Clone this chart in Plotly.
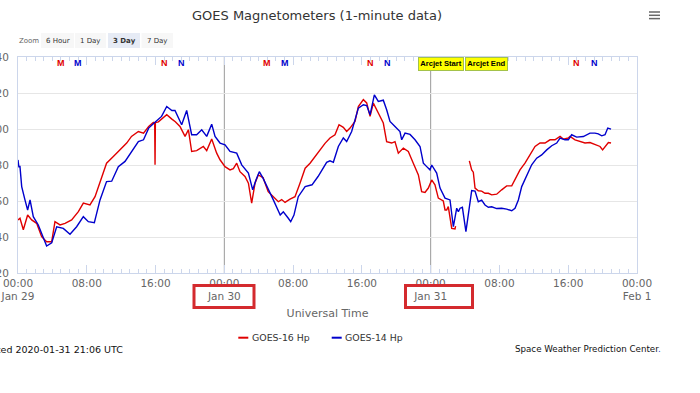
import pandas as pd
import plotly.graph_objects as go

# ---------------- data ----------------
start = pd.Timestamp("2020-01-29 00:00")

series_names = ["GOES-16 Hp", "GOES-14 Hp"]
series_colors = ["#e00000", "#0000cc"]

g16_hours = [0.0, 0.23, 0.62, 1.12, 1.59, 2.17, 2.75, 3.33, 3.92, 4.3, 4.89, 5.47, 6.24, 7.02, 7.6,
             8.37, 8.96, 9.65, 10.3, 11.09, 11.86, 12.64, 13.2, 14.0, 14.6, 15.2, 15.74, 15.9, 15.94,
             15.98, 16.33, 17.3, 17.9, 18.3, 18.84, 19.43, 19.82, 20.2, 20.78, 21.56, 21.95, 22.53,
             23.11, 23.5, 24.08, 24.66, 25.05, 25.44, 25.82, 26.4, 26.8, 27.18, 27.57, 27.95, 28.5,
             29.1, 29.7, 30.28, 30.67, 31.06, 31.64, 32.22, 32.8, 33.4, 33.97, 34.55, 35.13, 35.71,
             36.29, 36.87, 37.34, 37.84, 38.23, 38.62, 39.2, 39.59, 40.17, 40.56, 40.95, 41.33, 41.91,
             42.49, 42.88, 43.46, 43.85, 44.24, 44.82, 45.4, 45.98, 46.57, 46.95, 47.34, 47.73, 48.12,
             48.5, 48.89, 49.47, 49.67, 49.86, 50.05, 50.45, 50.83, 50.9,
             51.7,
             52.5, 52.77, 52.96, 53.16, 53.54, 53.93, 54.32, 54.71, 55.1, 55.68, 56.26, 56.84, 57.43,
             57.81, 58.39, 58.97, 59.56, 60.14, 60.72, 61.3, 61.88, 62.46, 63.05, 63.43, 64.01, 64.21,
             64.79, 65.37, 65.95, 66.53, 67.11, 67.7, 68.0, 68.4, 68.67, 68.98]
g16_hp = [49.5, 50.4, 44.0, 52.2, 49.5, 47.6, 40.2, 37.4, 37.4, 48.5, 46.7, 47.6, 49.5, 54.1, 58.8,
          57.8, 62.4, 71.7, 81.0, 84.7, 88.4, 92.2, 95.9, 98.6, 97.7, 101.4, 103.6, 103.0, 80.1,
          103.5, 104.0, 108.0, 105.5, 104.0, 101.4, 95.9, 99.6, 87.5, 88.0, 90.3, 88.0, 94.4,
          86.6, 82.9, 79.1, 77.3, 78.0, 81.0, 76.3, 73.6, 69.9, 58.8, 69.9, 74.5, 73.0,
          65.2, 62.4, 59.6, 60.8, 59.2, 61.0, 62.4, 69.9, 78.2, 81.0, 84.7, 88.4, 92.0,
          95.0, 96.8, 102.4, 100.9, 98.6, 100.5, 104.2, 112.5, 116.3, 114.5, 107.0, 114.4, 108.9,
          103.3, 93.0, 92.2, 93.0, 86.6, 89.4, 87.5, 81.0, 74.5, 65.2, 64.8, 67.2, 71.7,
          69.0, 61.6, 60.0, 55.0, 55.0, 56.9, 44.8, 44.5, 46.0,
          None,
          82.3, 77.3, 76.0, 67.2, 65.7, 65.5, 64.3, 64.3, 63.4, 63.8, 66.2, 68.4, 68.4,
          71.7, 77.3, 81.0, 85.6, 90.3, 92.2, 92.2, 94.0, 94.0, 95.9, 94.4, 95.0, 95.9,
          94.0, 93.0, 92.2, 92.5, 91.2, 90.3, 88.4, 90.5, 92.5, 92.2]

g14_hours = [0.0, 0.1, 0.23, 0.43, 0.81, 1.12, 1.4, 1.78, 2.36, 2.75, 3.33, 3.92, 4.5, 5.27, 6.05,
             6.82, 7.6, 8.18, 8.88, 9.54, 10.3, 10.9, 11.67, 12.45, 13.2, 14.0, 14.6, 15.2, 15.9,
             16.7, 17.3, 17.9, 18.26, 19.04, 19.62, 20.2, 20.78, 21.37, 21.95, 22.53, 22.92, 23.5,
             24.08, 24.66, 25.44, 26.02, 26.8, 27.3, 27.68, 28.07, 28.5, 29.1, 29.7, 30.5, 30.86,
             31.44, 31.72, 32.1, 32.6, 33.4, 34.2, 34.9, 35.5, 35.9, 36.29, 36.68, 37.26, 37.84,
             38.23, 38.81, 39.2, 39.59, 40.17, 40.56, 40.95, 41.45, 41.91, 42.49, 42.88, 43.27,
             43.85, 44.43, 44.63, 45.02, 45.6, 46.18, 46.76, 47.15, 47.54, 47.92, 48.12, 48.7,
             49.09, 49.67, 50.25, 50.64, 51.03, 51.22, 51.42, 51.69, 52.1, 52.5, 52.77, 53.16,
             53.54, 53.93, 54.32, 54.71, 55.1, 55.68, 56.26, 56.84, 57.43, 57.81, 58.2, 58.59,
             59.17, 59.75, 60.33, 60.91, 61.5, 62.08, 62.66, 63.05, 63.63, 64.01, 64.4, 64.98,
             65.76, 66.53, 67.11, 67.5, 67.9, 68.28, 68.6, 68.98]
g14_hp = [82.8, 79.0, 79.1, 68.0, 60.6, 55.0, 60.6, 51.3, 46.7, 42.0, 35.0, 36.8, 45.7, 44.8, 41.5,
          45.7, 51.3, 48.5, 48.0, 60.6, 70.8, 71.0, 79.1, 82.0, 87.5, 93.0, 94.0, 100.5, 103.6,
          107.0, 112.5, 110.3, 110.3, 102.4, 110.3, 96.8, 96.8, 99.6, 95.9, 102.7, 95.9, 92.2,
          91.2, 87.5, 86.6, 80.1, 75.5, 66.2, 71.7, 76.3, 72.7, 66.2, 60.6, 52.2, 54.0,
          50.4, 48.5, 52.2, 62.4, 68.0, 69.0, 73.6, 78.2, 81.5, 82.3, 81.5, 90.3, 95.0,
          93.0, 98.6, 105.1, 111.6, 113.5, 113.0, 107.9, 119.0, 115.3, 116.0, 110.7, 104.2,
          101.4, 98.6, 94.0, 97.7, 97.0, 94.0, 90.3, 81.0, 79.1, 77.3, 80.0, 75.5,
          67.2, 61.6, 60.6, 45.7, 56.0, 54.0, 56.0, 56.5, 43.0, 57.0, 65.8, 65.5,
          59.6, 60.5, 57.8, 56.5, 56.8, 55.8, 56.0, 55.5, 54.6, 56.0, 60.6, 68.0,
          73.6, 80.1, 83.8, 85.6, 88.4, 90.7, 92.2, 95.0, 94.0, 94.0, 96.8, 95.5,
          95.8, 97.7, 97.7, 97.3, 96.2, 96.8, 100.5, 99.9]

tick_hours = [0, 8, 16, 24, 32, 40, 48, 56, 64, 72]
tick_text = ["00:00<br>Jan 29", "08:00", "16:00", "00:00<br>Jan 30", "08:00", "16:00",
             "00:00<br>Jan 31", "08:00", "16:00", "00:00<br>Feb 1"]
y_ticks = [20, 40, 60, 80, 100, 120, 140]
day_line_hours = [24, 48]

# visible local midnight (M) / noon (N) markers: hour, letter, satellite index (0=G16, 1=G14)
mn_hours = [5, 7, 17, 19, 29, 31, 41, 43, 65, 67]
mn_letters = ["M", "M", "N", "N", "M", "M", "N", "N", "N", "N"]
mn_sat = [0, 1, 0, 1, 0, 1, 0, 1, 0, 1]

event_labels = ["Arcjet Start", "Arcjet End"]
zoom_buttons = ["6 Hour", "1 Day", "3 Day", "7 Day"]
selected_button = "3 Day"


def to_dt(hours):
    return [start + pd.Timedelta(hours=h) for h in hours]


# ---------------- layout helpers (pixel -> paper) ----------------
W, H = 700, 393
L, R, T, B = 18, 637, 57, 273


def px(x):
    return (x - L) / (R - L)


def py(y):
    return (B - y) / (B - T)


FONT = "DejaVu Sans"
fig = go.Figure()

fig.add_trace(go.Scatter(x=to_dt(g16_hours), y=g16_hp, mode="lines", name=series_names[0],
                         line=dict(color=series_colors[0], width=1.4), connectgaps=False))
fig.add_trace(go.Scatter(x=to_dt(g14_hours), y=g14_hp, mode="lines", name=series_names[1],
                         line=dict(color=series_colors[1], width=1.4)))

shapes = []
for h in day_line_hours:
    shapes.append(dict(type="line", xref="x", yref="paper", x0=to_dt([h])[0], x1=to_dt([h])[0],
                       y0=0, y1=1, line=dict(color="#9a9a9a", width=1), layer="below"))

# red highlight boxes around the day labels
for (x0, x1) in [(194, 254), (405.5, 472.5)]:
    shapes.append(dict(type="rect", xref="paper", yref="paper", x0=px(x0), x1=px(x1),
                       y0=py(285.5), y1=py(307.5), line=dict(color="#d42a2e", width=3)))

# zoom buttons
btn_x = [(41, 74), (75, 106), (108, 140), (141.5, 173)]
annotations = []
for (x0, x1), lab in zip(btn_x, zoom_buttons):
    sel = lab == selected_button
    shapes.append(dict(type="rect", xref="paper", yref="paper", x0=px(x0), x1=px(x1),
                       y0=py(48), y1=py(33), fillcolor="#e6ebf5" if sel else "#f7f7f7",
                       line=dict(width=0)))
    annotations.append(dict(xref="paper", yref="paper", x=px((x0 + x1) / 2), y=py(40.7),
                            text=f"<b>{lab}</b>" if sel else lab, showarrow=False,
                            xanchor="center", yanchor="middle",
                            font=dict(family=FONT, size=7, color="#333")))
annotations.append(dict(xref="paper", yref="paper", x=px(17), y=py(40.7), text="Zoom",
                        showarrow=False, xanchor="left", yanchor="middle",
                        font=dict(family=FONT, size=7, color="#666")))

# hamburger menu
for yy in (12, 15.3, 18.6):
    shapes.append(dict(type="line", xref="paper", yref="paper", x0=px(649), x1=px(660),
                       y0=py(yy), y1=py(yy), line=dict(color="#666", width=1.5)))

# M / N markers
for h, letter, s in zip(mn_hours, mn_letters, mn_sat):
    annotations.append(dict(xref="x", yref="paper", x=to_dt([h])[0], y=py(62.7), text=f"<b>{letter}</b>",
                            showarrow=False, xanchor="center", yanchor="middle",
                            font=dict(family="Liberation Sans", size=9, color=series_colors[s])))

# Arcjet flags
for lab, (x0, x1) in zip(event_labels, [(418.5, 464.5), (465.5, 508.3)]):
    annotations.append(dict(xref="paper", yref="paper", x=px((x0 + x1) / 2), y=py(57),
                            text=f"<b>{lab}</b>", showarrow=False, xanchor="center", yanchor="top",
                            width=x1 - x0 - 3, height=10.5, borderpad=0.5, borderwidth=1,
                            bgcolor="#ffff00", bordercolor="#a3c24a",
                            font=dict(family="Liberation Sans", size=7.6, color="#000")))

# custom legend
for name, color, (lx0, lx1, tx) in zip(series_names, series_colors,
                                       [(238.3, 248.3, 250), (331.7, 341.7, 343.3)]):
    shapes.append(dict(type="line", xref="paper", yref="paper", x0=px(lx0), x1=px(lx1),
                       y0=py(337.7), y1=py(337.7), line=dict(color=color, width=2)))
    annotations.append(dict(xref="paper", yref="paper", x=px(tx), y=py(337.7), text=name,
                            showarrow=False, xanchor="left", yanchor="middle",
                            font=dict(family=FONT, size=9.4, color="#333")))

# footer
annotations.append(dict(xref="paper", yref="paper", x=px(125), y=py(349),
                        text="Updated 2020-01-31 21:06 UTC", showarrow=False,
                        xanchor="right", yanchor="middle",
                        font=dict(family=FONT, size=9.5, color="#111")))
annotations.append(dict(xref="paper", yref="paper", x=px(513), y=py(348.5),
                        text="Space Weather Prediction Center<span style='color:#3050d0'>.</span>",
                        showarrow=False, xanchor="left", yanchor="middle",
                        font=dict(family=FONT, size=8.7, color="#111")))

fig.update_layout(
    width=W, height=H,
    margin=dict(l=L, r=W - R, t=T, b=H - B, pad=0, autoexpand=False),
    paper_bgcolor="white", plot_bgcolor="white",
    showlegend=False,
    title=dict(text="GOES Magnetometers (1-minute data)", x=317 / W, xref="container",
               xanchor="center", y=1 - 15 / H, yanchor="middle",
               font=dict(family=FONT, size=13, color="#333")),
    xaxis=dict(range=to_dt([0, 72]), tickmode="array", tickvals=to_dt(tick_hours), ticktext=tick_text,
               ticks="inside", ticklen=8, tickcolor="#ccd6eb", tickwidth=1,
               minor=dict(tickmode="linear", tick0=start, dtick=3600000, ticks="inside",
                          ticklen=4, tickcolor="#ccd6eb", showgrid=False),
               showgrid=False, showline=True, linecolor="#ccd6eb", mirror="allticks",
               automargin=False,
               tickfont=dict(family=FONT, size=10.5, color="#666"),
               title=dict(text="Universal Time", standoff=8,
                          font=dict(family=FONT, size=11, color="#666"))),
    yaxis=dict(range=[20, 140], tickvals=y_ticks, showgrid=True, gridcolor="#e6e6e6",
               zeroline=False, showline=True, linecolor="#ccd6eb", mirror=True,
               ticks="", ticklabelstandoff=6, automargin=False,
               tickfont=dict(family=FONT, size=10.5, color="#666")),
    shapes=shapes,
    annotations=annotations,
)

fig.write_html("out.html", config={"displayModeBar": False},
               post_script="document.body.style.margin='0';document.body.style.padding='0';")
